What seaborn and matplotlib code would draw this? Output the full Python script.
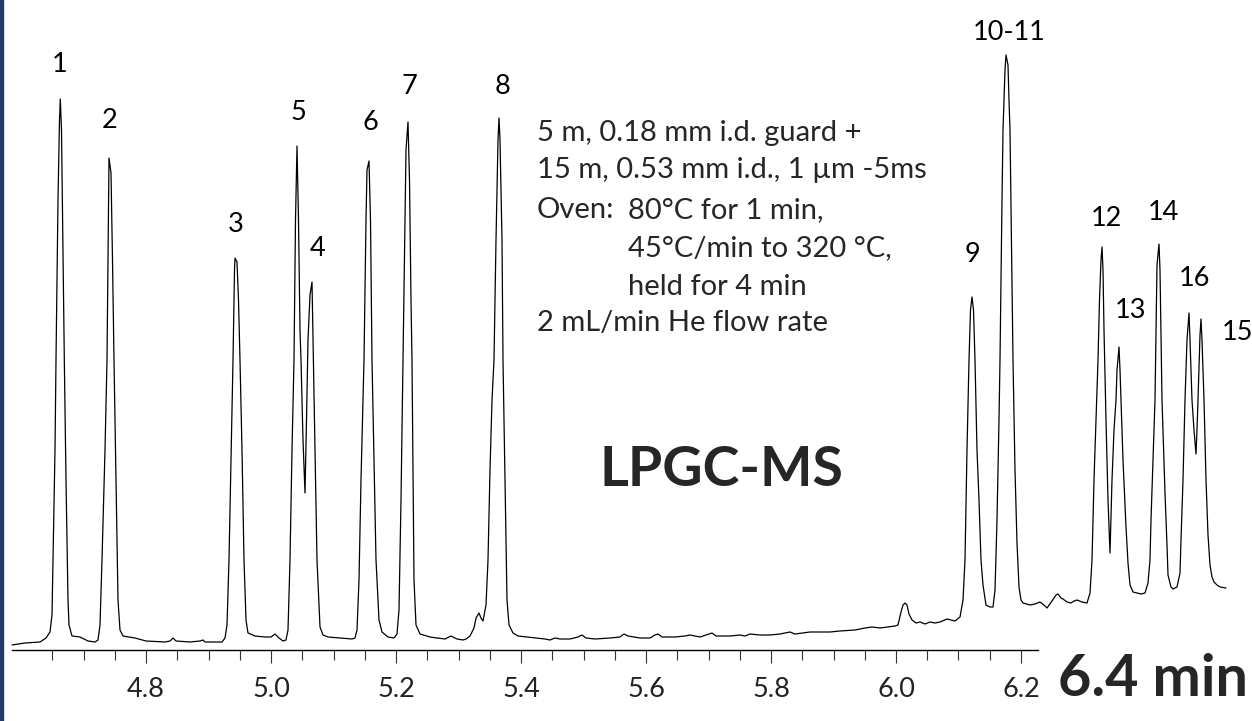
# LPGC-MS chromatogram (retention time vs. detector signal)

import numpy as np
import matplotlib
matplotlib.use("Agg")
import matplotlib.pyplot as plt
from matplotlib.patches import Rectangle
import seaborn as sns

# ---------------- data ----------------
retention_time = [
    4.5856, 4.6064, 4.6304, 4.6400, 4.6464, 4.6496, 4.6512, 4.6544, 4.6560, 4.6592,
    4.6616, 4.6629, 4.6648, 4.6672, 4.6693, 4.6720, 4.6752, 4.6768, 4.6816, 4.6944,
    4.7072, 4.7184, 4.7232, 4.7264, 4.7296, 4.7344, 4.7376, 4.7400, 4.7408, 4.7440,
    4.7464, 4.7488, 4.7520, 4.7552, 4.7584, 4.7632, 4.7824, 4.8000, 4.8304, 4.8384,
    4.8432, 4.8480, 4.8704, 4.8864, 4.8912, 4.8944, 4.9216, 4.9264, 4.9296, 4.9328,
    4.9360, 4.9392, 4.9416, 4.9424, 4.9456, 4.9480, 4.9504, 4.9536, 4.9568, 4.9600,
    4.9632, 4.9744, 4.9904, 5.0000, 5.0064, 5.0128, 5.0192, 5.0240, 5.0272, 5.0304,
    5.0336, 5.0368, 5.0392, 5.0416, 5.0440, 5.0464, 5.0480, 5.0512, 5.0544, 5.0568,
    5.0592, 5.0624, 5.0656, 5.0672, 5.0704, 5.0736, 5.0784, 5.0832, 5.0912, 5.1104,
    5.1296, 5.1344, 5.1376, 5.1408, 5.1440, 5.1472, 5.1488, 5.1520, 5.1536, 5.1568,
    5.1592, 5.1616, 5.1648, 5.1680, 5.1728, 5.1776, 5.1872, 5.1968, 5.2016, 5.2048,
    5.2080, 5.2112, 5.2144, 5.2160, 5.2192, 5.2216, 5.2240, 5.2256, 5.2272, 5.2288,
    5.2320, 5.2384, 5.2544, 5.2656, 5.2784, 5.2880, 5.2976, 5.3072, 5.3120, 5.3184,
    5.3248, 5.3280, 5.3328, 5.3360, 5.3392, 5.3440, 5.3472, 5.3504, 5.3536, 5.3568,
    5.3600, 5.3632, 5.3648, 5.3664, 5.3696, 5.3712, 5.3744, 5.3776, 5.3808, 5.3872,
    5.3952, 5.4096, 5.4224, 5.4384, 5.4464, 5.4544, 5.4624, 5.4784, 5.4912, 5.4976,
    5.5040, 5.5184, 5.5424, 5.5584, 5.5648, 5.5712, 5.5904, 5.6064, 5.6144, 5.6192,
    5.6256, 5.6464, 5.6624, 5.6704, 5.6864, 5.7056, 5.7120, 5.7344, 5.7504, 5.7584,
    5.7664, 5.7824, 5.7984, 5.8144, 5.8304, 5.8384, 5.8624, 5.8944, 5.9104, 5.9344,
    5.9504, 5.9616, 5.9744, 5.9984, 6.0032, 6.0080, 6.0112, 6.0144, 6.0176, 6.0208,
    6.0256, 6.0320, 6.0384, 6.0464, 6.0544, 6.0624, 6.0704, 6.0816, 6.0944, 6.1024,
    6.1072, 6.1104, 6.1136, 6.1168, 6.1192, 6.1216, 6.1240, 6.1264, 6.1296, 6.1328,
    6.1360, 6.1392, 6.1440, 6.1504, 6.1552, 6.1584, 6.1616, 6.1648, 6.1664, 6.1696,
    6.1712, 6.1744, 6.1760, 6.1792, 6.1808, 6.1824, 6.1856, 6.1872, 6.1904, 6.1936,
    6.1968, 6.2000, 6.2032, 6.2144, 6.2224, 6.2304, 6.2368, 6.2416, 6.2496, 6.2560,
    6.2592, 6.2640, 6.2672, 6.2736, 6.2800, 6.2848, 6.2896, 6.2976, 6.3056, 6.3104,
    6.3136, 6.3168, 6.3200, 6.3232, 6.3256, 6.3280, 6.3296, 6.3312, 6.3328, 6.3360,
    6.3392, 6.3424, 6.3456, 6.3488, 6.3520, 6.3536, 6.3568, 6.3584, 6.3600, 6.3632,
    6.3680, 6.3712, 6.3744, 6.3792, 6.3856, 6.3920, 6.3984, 6.4032, 6.4064, 6.4080,
    6.4112, 6.4144, 6.4176, 6.4208, 6.4224, 6.4256, 6.4288, 6.4304, 6.4336, 6.4352,
    6.4400, 6.4432, 6.4496, 6.4544, 6.4560, 6.4592, 6.4624, 6.4656, 6.4688, 6.4704,
    6.4736, 6.4768, 6.4800, 6.4816, 6.4832, 6.4864, 6.4880, 6.4896, 6.4928, 6.4960,
    6.4992, 6.5024, 6.5056, 6.5088, 6.5136, 6.5184, 6.5280,
]

signal = [
    5, 7, 8, 12, 18, 35, 90, 200, 290, 450,
    530, 551, 520, 400, 290, 170, 50, 25, 14, 13,
    9, 8, 10, 25, 90, 200, 290, 450, 492, 477,
    390, 290, 170, 50, 20, 14, 12, 9, 8, 9,
    12, 9, 8, 9, 10, 8, 8, 12, 25, 90,
    190, 290, 380, 392, 388, 350, 290, 200, 90, 30,
    17, 14, 13, 13, 16, 12, 9, 10, 20, 90,
    200, 290, 430, 504, 430, 320, 290, 210, 157, 230,
    310, 355, 368, 310, 200, 90, 23, 15, 13, 12,
    11, 12, 20, 70, 170, 250, 290, 430, 480, 489,
    430, 290, 190, 90, 30, 18, 13, 12, 16, 40,
    150, 290, 430, 500, 528, 470, 350, 290, 180, 70,
    25, 16, 13, 12, 11, 14, 11, 10, 11, 14,
    22, 32, 37, 32, 29, 45, 90, 180, 250, 290,
    410, 510, 532, 510, 410, 290, 170, 50, 25, 17,
    14, 13, 12, 11, 10, 12, 11, 11, 13, 15,
    12, 11, 12, 13, 16, 14, 12, 12, 15, 16,
    13, 13, 14, 15, 13, 17, 14, 14, 15, 14,
    16, 15, 15, 16, 18, 16, 18, 18, 19, 20,
    22, 23, 22, 24, 25, 38, 45, 47, 45, 36,
    30, 27, 28, 26, 28, 27, 28, 31, 29, 33,
    50, 90, 200, 290, 340, 353, 340, 290, 200, 150,
    90, 65, 45, 43, 43, 60, 130, 230, 290, 450,
    520, 580, 595, 585, 550, 520, 370, 290, 180, 107,
    63, 50, 47, 45, 46, 48, 45, 42, 49, 55,
    56, 52, 51, 48, 47, 49, 50, 48, 47, 57,
    90, 170, 230, 290, 350, 390, 403, 380, 320, 230,
    150, 97, 170, 220, 250, 280, 303, 280, 250, 190,
    123, 87, 65, 58, 57, 56, 57, 67, 90, 130,
    190, 250, 385, 406, 380, 250, 190, 157, 105, 75,
    63, 61, 63, 77, 110, 170, 250, 310, 337, 310,
    250, 220, 196, 220, 250, 315, 331, 310, 250, 170,
    115, 85, 73, 68, 65, 63, 62,
]

peak_labels = ["1", "2", "3", "5", "4", "6", "7", "8",
               "9", "10-11", "12", "13", "14", "16", "15"]
label_time = [4.6624, 4.7424, 4.9440, 5.0432, 5.0752, 5.1584, 5.2208, 5.3696,
              6.1232, 6.1808, 6.3360, 6.3760, 6.4272, 6.4768, 6.5456]
label_height = [585, 530, 425, 537, 402, 527, 563, 563,
                395, 617, 432, 340, 437, 372, 317]

major_ticks = [4.8, 5.0, 5.2, 5.4, 5.6, 5.8, 6.0, 6.2]
minor_ticks = [4.65, 4.70, 4.75, 4.85, 4.90, 4.95, 5.05, 5.10, 5.15, 5.25, 5.30,
               5.35, 5.45, 5.50, 5.55, 5.65, 5.70, 5.75, 5.85, 5.90, 5.95, 6.05,
               6.10, 6.15]

conditions = [
    "5 m, 0.18 mm i.d. guard +",
    "15 m, 0.53 mm i.d., 1 \u00b5m -5ms",
    "Oven:",
    "2 mL/min He flow rate",
]
oven_steps = ["80\u00b0C for 1 min,", "45\u00b0C/min to 320 \u00b0C,", "held for 4 min"]

# ---------------- plotting ----------------
sns.set_style("white")
plt.rcParams["font.family"] = ["Lato", "DejaVu Sans"]

W, H = 1252, 721
fig = plt.figure(figsize=(W / 100, H / 100), dpi=100)
ax = fig.add_axes([0, 71 / H, 1, 650 / H])
ax.patch.set_alpha(0)

sns.lineplot(x=retention_time, y=signal, sort=False, estimator=None,
             color="black", linewidth=0.9, ax=ax)

ax.set_xlim(4.5664, 6.5696)
ax.set_ylim(0, 650)

for s in ["top", "right", "left"]:
    ax.spines[s].set_visible(False)
ax.spines["bottom"].set_bounds(4.5856, 6.2272)
ax.spines["bottom"].set_linewidth(1.0)
ax.spines["bottom"].set_color("black")

ax.set_yticks([])
ax.set_xticks(major_ticks)
ax.set_xticklabels([f"{t:.1f}" for t in major_ticks])
ax.set_xticks(minor_ticks, minor=True)
ax.tick_params(axis="x", which="both", bottom=True, direction="out")
ax.tick_params(axis="x", which="major", length=9.5, width=0.8,
               color="#333333", labelsize=19.5, labelcolor="#222222", pad=10)
ax.tick_params(axis="x", which="minor", length=7.2, width=0.8,
               color="#333333")
ax.set_xlabel("")
ax.set_ylabel("")

for lab, t, h in zip(peak_labels, label_time, label_height):
    ax.text(t, h, lab, ha="center", va="center", fontsize=19.5, color="black")


# condition block, placed in pixel positions of the figure
def fx(px):
    return px / W


def fy(py):
    return 1 - py / H


line_y = [133, 170, 210, 323]
for txt, py in zip(conditions, line_y):
    fig.text(fx(537), fy(py), txt, ha="left", va="center", fontsize=21)
for txt, py in zip(oven_steps, [210, 248, 287]):
    fig.text(fx(628), fy(py), txt, ha="left", va="center", fontsize=21)

fig.text(fx(721), fy(470), "LPGC-MS", ha="center", va="center",
         fontsize=40, fontweight="bold")
fig.text(fx(1058), fy(680), "6.4 min", ha="left", va="center",
         fontsize=41.5, fontweight="bold")

# dark strip on the left edge of the slide
fig.patches.append(Rectangle((0, 0), 3 / W, 1, transform=fig.transFigure,
                             color="#1F3A68", zorder=10))

fig.savefig("out.png", dpi=100)
